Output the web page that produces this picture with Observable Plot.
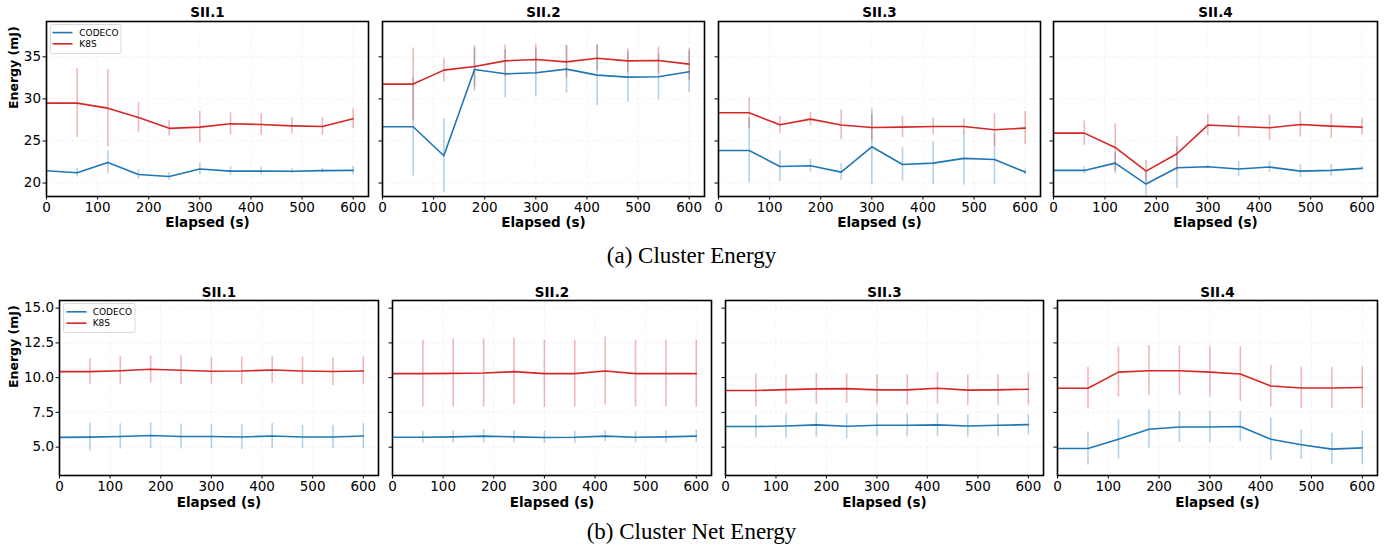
<!DOCTYPE html>
<html>
<head>
<meta charset="utf-8">
<script src="https://cdn.jsdelivr.net/npm/d3@7"></script>
<script src="https://cdn.jsdelivr.net/npm/@observablehq/plot@0.6"></script>
<style>
  html, body { margin: 0; padding: 0; background: #fff; }
  #root { position: relative; width: 1397px; height: 550px; overflow: hidden; background: #fff; }
  .panel { position: absolute; }
  #overlay { position: absolute; left: 0; top: 0; pointer-events: none; }
</style>
</head>
<body>
<div id="root"></div>
<script>
// ---- data ----
const times = [0, 60, 120, 180, 240, 300, 360, 420, 480, 540, 600];
const panelTitles = ["SII.1", "SII.2", "SII.3", "SII.4"];
const seriesNames = ["CODECO", "K8S"];
const xTicks = [0, 100, 200, 300, 400, 500, 600];
const energyTicks = [20, 25, 30, 35];
const netTicks = [5, 7.5, 10, 12.5, 15];
const captions = ["(a) Cluster Energy", "(b) Cluster Net Energy"];

// (a) Cluster Energy – mean and std per panel
const energyCodeco = [
  [21.46, 21.22, 22.45, 21.02, 20.78, 21.66, 21.42, 21.42, 21.40, 21.48, 21.50],
  [26.69, 26.69, 23.24, 33.50, 32.98, 33.10, 33.54, 32.83, 32.59, 32.63, 33.22],
  [23.87, 23.87, 21.97, 22.05, 21.30, 24.31, 22.21, 22.37, 22.93, 22.80, 21.30],
  [21.50, 21.50, 22.37, 19.88, 21.82, 21.94, 21.66, 21.90, 21.42, 21.50, 21.74]
];
const energyCodecoSd = [
  [null, 0.50, 1.35, 0.55, 0.45, 0.70, 0.50, 0.45, 0.30, 0.25, 0.50],
  [null, 5.85, 4.40, 2.55, 2.85, 2.80, 2.85, 3.60, 3.00, 2.75, 2.45],
  [null, 3.80, 1.80, 0.75, 1.00, 4.50, 2.00, 2.55, 3.15, 3.00, 0.35],
  [null, 0.45, 1.25, 1.40, 2.45, 0.20, 0.90, 0.65, 0.75, 0.70, 0.20]
];
const energyK8s = [
  [29.50, 29.50, 28.90, 27.80, 26.50, 26.65, 27.04, 26.96, 26.80, 26.72, 27.64],
  [31.76, 31.76, 33.42, 33.85, 34.52, 34.68, 34.40, 34.84, 34.52, 34.56, 34.13],
  [28.35, 28.35, 26.92, 27.60, 26.89, 26.60, 26.64, 26.72, 26.72, 26.33, 26.53],
  [25.93, 25.93, 24.23, 21.42, 23.48, 26.89, 26.72, 26.57, 26.96, 26.77, 26.65]
];
const energyK8sSd = [
  [null, 4.10, 4.60, 1.75, 0.90, 1.85, 1.30, 1.30, 1.00, 1.05, 1.15],
  [null, 4.30, 1.37, 2.50, 1.90, 1.80, 1.90, 1.55, 1.40, 1.60, 1.90],
  [null, 1.80, 1.00, 0.80, 1.75, 1.55, 1.25, 1.00, 0.90, 1.95, 1.95],
  [null, 1.45, 2.80, 1.30, 2.05, 1.25, 1.25, 1.50, 1.50, 1.45, 0.95]
];

// (b) Cluster Net Energy – mean and std per panel
const netCodeco = [
  [5.70, 5.72, 5.77, 5.84, 5.77, 5.77, 5.73, 5.80, 5.73, 5.73, 5.80],
  [5.71, 5.71, 5.74, 5.79, 5.74, 5.69, 5.71, 5.79, 5.71, 5.74, 5.79],
  [6.48, 6.48, 6.52, 6.60, 6.50, 6.57, 6.57, 6.60, 6.52, 6.57, 6.62],
  [4.90, 4.90, 5.57, 6.29, 6.45, 6.45, 6.48, 5.57, 5.17, 4.86, 4.95]
];
const netCodecoSd = [
  [null, 1.00, 0.91, 0.94, 0.90, 0.88, 0.90, 0.90, 0.83, 0.84, 0.90],
  [null, 0.43, 0.45, 0.48, 0.43, 0.44, 0.44, 0.40, 0.40, 0.42, 0.43],
  [null, 0.81, 0.87, 0.88, 0.88, 0.83, 0.83, 0.81, 0.81, 0.79, 0.74],
  [null, 1.20, 1.43, 1.40, 1.10, 1.13, 1.10, 1.51, 1.06, 1.13, 1.19]
];
const netK8s = [
  [10.43, 10.43, 10.50, 10.60, 10.53, 10.46, 10.48, 10.55, 10.48, 10.44, 10.48],
  [10.29, 10.29, 10.31, 10.33, 10.43, 10.29, 10.29, 10.48, 10.29, 10.29, 10.29],
  [9.07, 9.07, 9.14, 9.19, 9.21, 9.12, 9.12, 9.24, 9.10, 9.12, 9.17],
  [9.24, 9.24, 10.40, 10.50, 10.50, 10.40, 10.26, 9.40, 9.26, 9.26, 9.29]
];
const netK8sSd = [
  [null, 0.93, 1.00, 0.97, 1.04, 0.97, 1.00, 0.96, 1.00, 1.00, 1.00],
  [null, 2.40, 2.43, 2.43, 2.40, 2.42, 2.40, 2.44, 2.40, 2.38, 2.40],
  [null, 1.19, 1.08, 1.12, 1.07, 1.10, 1.10, 1.14, 1.10, 1.10, 1.15],
  [null, 1.49, 1.80, 1.81, 1.77, 1.80, 1.98, 1.49, 1.48, 1.48, 1.48]
];

// ---- layout ----
const colors = ["#1f77b4", "#d62728"];
const FONT = "DejaVu Sans, Verdana, sans-serif";
const rows = [
  { top: 21, bottom: 196, svgH: 240, svgTop: 0, lefts: [46, 382, 718, 1053], rights: [368, 704, 1040, 1377],
    yDomain: [18.4, 39.2], yTicks: energyTicks, fmt: d3.format("d"), titleDy: -9, labelDy: 26,
    codeco: energyCodeco, codecoSd: energyCodecoSd, k8s: energyK8s, k8sSd: energyK8sSd },
  { top: 300, bottom: 475, svgH: 240, svgTop: 280, lefts: [59, 392, 725, 1057], rights: [378, 711, 1043, 1377],
    yDomain: [2.96, 15.55], yTicks: netTicks, fmt: d3.format(".1f"), titleDy: -8, labelDy: 27,
    codeco: netCodeco, codecoSd: netCodecoSd, k8s: netK8s, k8sSd: netK8sSd }
];

const root = document.getElementById("root");

rows.forEach((row, r) => {
  panelTitles.forEach((title, p) => {
    const L = row.lefts[p], R = row.rights[p];
    const ml = p === 0 ? L : 10;
    const mr = 6;
    const mt = row.top - row.svgTop;
    const mb = row.svgTop + row.svgH - row.bottom;
    const data = [];
    times.forEach((t, i) => {
      data.push({ t, v: row.codeco[p][i], sd: row.codecoSd[p][i], s: seriesNames[0] });
    });
    times.forEach((t, i) => {
      data.push({ t, v: row.k8s[p][i], sd: row.k8sSd[p][i], s: seriesNames[1] });
    });
    const bars = data.filter(d => d.sd != null);
    const marks = [
      Plot.gridX(xTicks, { stroke: "#b0b0b0", strokeOpacity: 0.22, strokeDasharray: "2.5,2.5", strokeWidth: 0.8 }),
      Plot.gridY(row.yTicks, { stroke: "#b0b0b0", strokeOpacity: 0.22, strokeDasharray: "2.5,2.5", strokeWidth: 0.8 }),
      Plot.ruleX(bars, { x: "t", y1: d => d.v - d.sd, y2: d => d.v + d.sd, stroke: "s", strokeOpacity: 0.33, strokeWidth: 1.6 }),
      Plot.line(data, { x: "t", y: "v", z: "s", stroke: "s", strokeWidth: 1.6 }),
      Plot.axisX(xTicks, { tickSize: 3.5, tickPadding: 2, fontSize: 13.5, label: null, stroke: "#000" }),
      Plot.axisY(row.yTicks, { tickSize: 3.5, tickPadding: 2, fontSize: 13.5, label: null,
        tickFormat: p === 0 ? row.fmt : () => "" }),
      Plot.frame({ stroke: "#000", strokeWidth: 1.6 }),
      Plot.text([title], { text: d => d, frameAnchor: "top", lineAnchor: "middle", dy: row.titleDy,
        fontWeight: "bold", fontSize: 13.5 }),
      Plot.text(["Elapsed (s)"], { text: d => d, frameAnchor: "bottom", lineAnchor: "middle", dy: row.labelDy,
        fontWeight: "bold", fontSize: 13.5 })
    ];
    if (p === 0) {
      marks.push(Plot.text(["Energy (mJ)"], { text: d => d, frameAnchor: "left", dx: 13 - L, rotate: -90,
        lineAnchor: "middle", fontWeight: "bold", fontSize: 12.5 }));
    }
    const chart = Plot.plot({
      width: ml + (R - L) + mr,
      height: row.svgH,
      marginLeft: ml, marginRight: mr, marginTop: mt, marginBottom: mb,
      style: { fontFamily: FONT, fontSize: "13px", color: "#000", background: "transparent", overflow: "visible" },
      x: { domain: [0, 630], label: null },
      y: { domain: row.yDomain, label: null },
      color: { domain: seriesNames, range: colors },
      marks
    });
    chart.classList.add("panel");
    chart.style.left = (L - ml) + "px";
    chart.style.top = row.svgTop + "px";
    root.appendChild(chart);
  });
});

// ---- overlay: legends and captions ----
const svg = d3.select(root).append("svg").attr("id", "overlay")
  .attr("width", 1397).attr("height", 550)
  .style("font-family", FONT);

const legends = [
  { x: 50.5, y: 24.5, w: 70.5, h: 29, lx: 52.5, tx: 79.3, ly: [32.6, 43.8] },
  { x: 63.5, y: 303.5, w: 71.5, h: 29, lx: 66.5, tx: 92.7, ly: [311.8, 323.2] }
];
legends.forEach(lg => {
  svg.append("rect").attr("x", lg.x).attr("y", lg.y).attr("width", lg.w).attr("height", lg.h)
    .attr("rx", 2).attr("fill", "#fff").attr("fill-opacity", 0.85).attr("stroke", "#d0d0d0").attr("stroke-width", 0.8);
  seriesNames.forEach((name, i) => {
    svg.append("line").attr("x1", lg.lx).attr("x2", lg.lx + 20).attr("y1", lg.ly[i]).attr("y2", lg.ly[i])
      .attr("stroke", colors[i]).attr("stroke-width", 1.6);
    svg.append("text").attr("x", lg.tx).attr("y", lg.ly[i]).attr("dy", "0.35em")
      .attr("font-size", 9).attr("fill", "#000").text(name);
  });
});

const capY = [262.7, 538.7];
captions.forEach((c, i) => {
  svg.append("text").attr("x", 691.5).attr("y", capY[i]).attr("text-anchor", "middle")
    .attr("font-family", "Liberation Serif, DejaVu Serif, serif").attr("font-size", 23)
    .attr("fill", "#000").text(c);
});
</script>
</body>
</html>
